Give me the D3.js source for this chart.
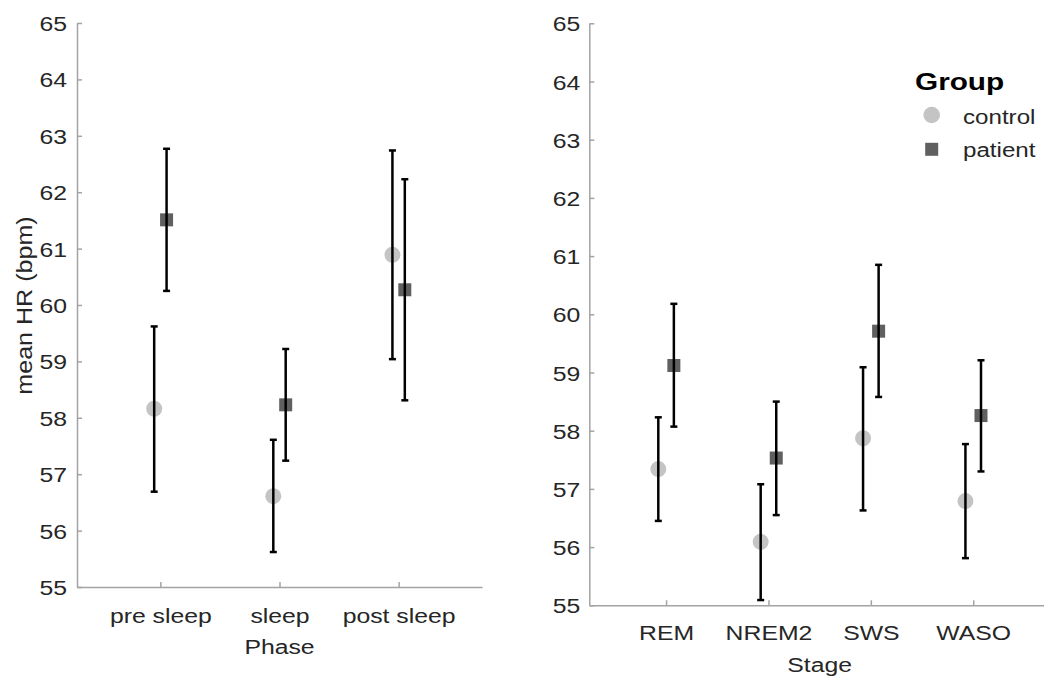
<!DOCTYPE html>
<html>
<head>
<meta charset="utf-8">
<script src="https://cdn.jsdelivr.net/npm/d3@7"></script>
<style>
  html, body { margin: 0; padding: 0; background: #fff; }
  svg { display: block; font-family: "Liberation Sans", Arial, Helvetica, sans-serif; }
</style>
</head>
<body>
<svg id="chart" width="1044" height="677"></svg>
<script>
// ---- Data ----
const phases = ["pre sleep", "sleep", "post sleep"];
const phaseControlMean = [58.16, 56.61, 60.89];
const phaseControlLow  = [56.69, 55.62, 59.04];
const phaseControlHigh = [59.62, 57.61, 62.74];
const phasePatientMean = [61.51, 58.23, 60.27];
const phasePatientLow  = [60.25, 57.24, 58.31];
const phasePatientHigh = [62.77, 59.22, 62.23];

const stages = ["REM", "NREM2", "SWS", "WASO"];
const stageControlMean = [57.34, 56.09, 57.87, 56.79];
const stageControlLow  = [56.45, 55.09, 56.63, 55.81];
const stageControlHigh = [58.23, 57.08, 59.09, 57.77];
const stagePatientMean = [59.12, 57.53, 59.71, 58.26];
const stagePatientLow  = [58.07, 56.55, 58.58, 57.30];
const stagePatientHigh = [60.18, 58.50, 60.85, 59.21];

const yTicks = [55, 56, 57, 58, 59, 60, 61, 62, 63, 64, 65];
const groups = ["control", "patient"];

// ---- Style ----
const controlColor = "#c4c4c4";
const patientColor = "#606060";
const axisColor = "#a3a3a3";
const textColor = "#262626";
const sx = 1.18;

const svg = d3.select("#chart");

function panel(cfg) {
  const x = d3.scaleLinear().domain(cfg.xDomain).range(cfg.xRange);
  const y = d3.scaleLinear().domain([55, 65]).range(cfg.yRange);
  const g = svg.append("g");

  // y axis
  const ya = g.append("g")
    .attr("transform", `translate(${cfg.xRange[0]},0)`)
    .call(d3.axisLeft(y).tickValues(yTicks).tickFormat(d3.format("d")).tickSizeInner(-5).tickSizeOuter(0).tickPadding(0));
  ya.select(".domain").attr("stroke", axisColor).attr("stroke-width", 1.5);
  ya.selectAll(".tick line").attr("stroke", axisColor).attr("stroke-width", 1.5);
  ya.selectAll(".tick text")
    .attr("x", 0).attr("dy", "0.36em")
    .attr("transform", `translate(${-cfg.yLabelGap},0) scale(${sx},1)`)
    .attr("fill", textColor).style("font-size", "21px");

  // x axis
  const idx = cfg.cats.map((c, i) => i + 1);
  const xa = g.append("g")
    .attr("transform", `translate(0,${cfg.yRange[0]})`)
    .call(d3.axisBottom(x).tickValues(idx).tickFormat(i => cfg.cats[i - 1]).tickSizeInner(-5).tickSizeOuter(0).tickPadding(0));
  xa.select(".domain").attr("stroke", axisColor).attr("stroke-width", 1.5);
  xa.selectAll(".tick line").attr("stroke", axisColor).attr("stroke-width", 1.5);
  xa.selectAll(".tick text")
    .attr("y", 0).attr("dy", 0)
    .attr("transform", `translate(0,${cfg.xLabelGap}) scale(${sx},1)`)
    .attr("fill", textColor).style("font-size", "21px");

  // x axis title
  g.append("text")
    .attr("transform", `translate(${(cfg.xRange[0] + cfg.xRange[1]) / 2},${cfg.xTitleY}) scale(${sx},1)`)
    .attr("text-anchor", "middle").attr("fill", textColor).style("font-size", "21px")
    .text(cfg.xTitle);

  const series = [
    { name: "control", mean: cfg.cMean, low: cfg.cLow, high: cfg.cHigh, off: -cfg.off },
    { name: "patient", mean: cfg.pMean, low: cfg.pLow, high: cfg.pHigh, off: cfg.off }
  ];

  // markers
  series.forEach(s => {
    const pts = s.mean.map((m, i) => ({ x: i + 1 + s.off, y: m }));
    if (s.name === "control") {
      g.append("g").selectAll("circle").data(pts).join("circle")
        .attr("cx", d => x(d.x)).attr("cy", d => y(d.y)).attr("r", 8)
        .attr("fill", controlColor);
    } else {
      g.append("g").selectAll("rect").data(pts).join("rect")
        .attr("x", d => x(d.x) - 6.5).attr("y", d => y(d.y) - 6.5)
        .attr("width", 13).attr("height", 13)
        .attr("fill", patientColor);
    }
  });

  // error bars
  series.forEach(s => {
    const bars = s.mean.map((m, i) => ({ x: i + 1 + s.off, lo: s.low[i], hi: s.high[i] }));
    const eg = g.append("g").attr("stroke", "#000").attr("stroke-width", 2.5);
    eg.selectAll(".v").data(bars).join("line")
      .attr("x1", d => x(d.x)).attr("x2", d => x(d.x))
      .attr("y1", d => y(d.lo)).attr("y2", d => y(d.hi));
    eg.selectAll(".ct").data(bars).join("line")
      .attr("x1", d => x(d.x) - 3.5).attr("x2", d => x(d.x) + 3.5)
      .attr("y1", d => y(d.hi)).attr("y2", d => y(d.hi));
    eg.selectAll(".cb").data(bars).join("line")
      .attr("x1", d => x(d.x) - 3.5).attr("x2", d => x(d.x) + 3.5)
      .attr("y1", d => y(d.lo)).attr("y2", d => y(d.lo));
  });
  return { x, y, g };
}

const left = panel({
  cats: phases, xDomain: [0.3, 3.7], xRange: [77, 482], yRange: [587, 23],
  off: 0.052, yLabelGap: 10, xLabelGap: 36, xTitleY: 654, xTitle: "Phase",
  cMean: phaseControlMean, cLow: phaseControlLow, cHigh: phaseControlHigh,
  pMean: phasePatientMean, pLow: phasePatientLow, pHigh: phasePatientHigh
});

const right = panel({
  cats: stages, xDomain: [0.25, 4.75], xRange: [589.3, 1050], yRange: [605.3, 23.3],
  off: 0.076, yLabelGap: 9, xLabelGap: 35, xTitleY: 672, xTitle: "Stage",
  cMean: stageControlMean, cLow: stageControlLow, cHigh: stageControlHigh,
  pMean: stagePatientMean, pLow: stagePatientLow, pHigh: stagePatientHigh
});

// y axis title (left panel)
svg.append("text")
  .attr("transform", `translate(32,305.5) rotate(-90) scale(1.14,1)`)
  .attr("text-anchor", "middle").attr("fill", textColor).style("font-size", "22px")
  .text("mean HR (bpm)");

// legend
const lg = svg.append("g");
lg.append("text")
  .attr("transform", `translate(915,90) scale(1.24,1)`)
  .attr("fill", "#000").style("font-size", "24px").style("font-weight", "bold")
  .text("Group");
lg.append("circle").attr("cx", 931.7).attr("cy", 115).attr("r", 8.3).attr("fill", controlColor);
lg.append("rect").attr("x", 931.7 - 6.5).attr("y", 149.3 - 6.5).attr("width", 13).attr("height", 13).attr("fill", patientColor);
lg.selectAll(".lt").data(groups).join("text")
  .attr("transform", (d, i) => `translate(963,${[123.5, 157][i]}) scale(1.15,1)`)
  .attr("fill", textColor).style("font-size", "21px")
  .text(d => d);
</script>
</body>
</html>
